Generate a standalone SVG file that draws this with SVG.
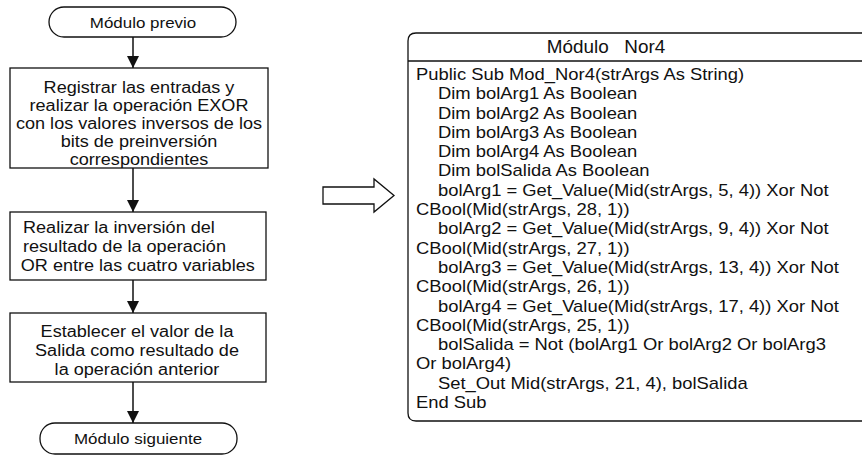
<svg xmlns="http://www.w3.org/2000/svg" width="862" height="455" viewBox="0 0 862 455">
  <defs>
    <style>
      .bg { fill: #ffffff; }
      .shape { fill: #ffffff; stroke: #111111; stroke-width: 1.3; }
      .edge { fill: none; stroke: #111111; stroke-width: 1.5; }
      .txt { font-family: "Liberation Sans", Arial, sans-serif; font-size: 16px; fill: #111111; }
      .term { font-family: "Liberation Sans", Arial, sans-serif; font-size: 15px; fill: #111111; text-anchor: middle; }
      .mid { text-anchor: middle; }
      .title { font-family: "Liberation Sans", Arial, sans-serif; font-size: 18px; fill: #111111; text-anchor: middle; }
      .code { font-family: "Liberation Sans", Arial, sans-serif; font-size: 16px; fill: #111111; }
    </style>
    <marker id="head" viewBox="0 0 12 12" refX="12" refY="6" markerWidth="12" markerHeight="12" markerUnits="userSpaceOnUse" orient="auto">
      <path d="M0,0 L12,6 L0,12 z" fill="#111111"/>
    </marker>
  </defs>
  <rect class="bg" x="0" y="0" width="862" height="455"/>

  <!-- flowchart connectors -->
  <g id="connectors">
    <line class="edge" x1="133" y1="37" x2="133" y2="68" marker-end="url(#head)"/>
    <line class="edge" x1="133" y1="168" x2="133" y2="212" marker-end="url(#head)"/>
    <line class="edge" x1="133" y1="280" x2="133" y2="313" marker-end="url(#head)"/>
    <line class="edge" x1="133" y1="382" x2="133" y2="423" marker-end="url(#head)"/>
  </g>

  <g id="start">
    <rect class="shape" x="49" y="7" width="187" height="30" rx="15" ry="15"/>
    <g transform="translate(143,0) scale(1.13,1)">
      <text class="term" x="0" y="28">Módulo previo</text>
    </g>
  </g>

  <g id="step1">
    <rect class="shape" x="10" y="68" width="258" height="100"/>
    <g transform="translate(139,0) scale(1.13,1)">
      <text class="txt mid" x="0" y="93">Registrar las entradas y</text>
      <text class="txt mid" x="0" y="111">realizar la operación EXOR</text>
      <text class="txt mid" x="0" y="129">con los valores inversos de los</text>
      <text class="txt mid" x="0" y="147">bits de preinversión</text>
      <text class="txt mid" x="0" y="165">correspondientes</text>
    </g>
  </g>

  <g id="step2">
    <rect class="shape" x="10" y="212" width="256" height="68"/>
    <g transform="translate(23,0) scale(1.13,1)">
      <text class="txt" x="0" y="233">Realizar la inversión del</text>
      <text class="txt" x="0" y="252">resultado de la operación</text>
      <text class="txt" x="-2" y="271">OR entre las cuatro variables</text>
    </g>
  </g>

  <g id="step3">
    <rect class="shape" x="10" y="313" width="256" height="69"/>
    <g transform="translate(137,0) scale(1.13,1)">
      <text class="txt mid" x="0" y="337">Establecer el valor de la</text>
      <text class="txt mid" x="0" y="356">Salida como resultado de</text>
      <text class="txt mid" x="0" y="375">la operación anterior</text>
    </g>
  </g>

  <g id="end">
    <rect class="shape" x="40" y="423" width="197" height="31" rx="15" ry="15"/>
    <g transform="translate(138,0) scale(1.13,1)">
      <text class="term" x="0" y="444">Módulo siguiente</text>
    </g>
  </g>

  <!-- hollow block arrow pointing to the code panel -->
  <g id="pointer">
    <path class="shape" d="M323,187 L374,187 L374,179 L394,195.5 L374,212 L374,204 L323,204 Z"/>
  </g>

  <g id="code">
    <path class="shape" d="M870,33 L416,33 Q408,33 408,41 L408,413 Q408,421 416,421 L870,421"/>
    <line class="shape" x1="408" y1="61" x2="870" y2="61"/>
    <g transform="translate(606,0) scale(1.05,1)">
      <text class="title" x="0" y="53" xml:space="preserve">Módulo   Nor4</text>
    </g>
    <g transform="translate(416,0) scale(1.15,1)">
      <text class="code" x="0" y="80">Public Sub Mod_Nor4(strArgs As String)</text>
      <text class="code" x="19.1" y="99.3">Dim bolArg1 As Boolean</text>
      <text class="code" x="19.1" y="118.6">Dim bolArg2 As Boolean</text>
      <text class="code" x="19.1" y="137.9">Dim bolArg3 As Boolean</text>
      <text class="code" x="19.1" y="157.2">Dim bolArg4 As Boolean</text>
      <text class="code" x="19.1" y="176.5">Dim bolSalida As Boolean</text>
      <text class="code" x="19.1" y="195.8">bolArg1 = Get_Value(Mid(strArgs, 5, 4)) Xor Not</text>
      <text class="code" x="0" y="215.1">CBool(Mid(strArgs, 28, 1))</text>
      <text class="code" x="19.1" y="234.4">bolArg2 = Get_Value(Mid(strArgs, 9, 4)) Xor Not</text>
      <text class="code" x="0" y="253.7">CBool(Mid(strArgs, 27, 1))</text>
      <text class="code" x="19.1" y="273">bolArg3 = Get_Value(Mid(strArgs, 13, 4)) Xor Not</text>
      <text class="code" x="0" y="292.3">CBool(Mid(strArgs, 26, 1))</text>
      <text class="code" x="19.1" y="311.6">bolArg4 = Get_Value(Mid(strArgs, 17, 4)) Xor Not</text>
      <text class="code" x="0" y="330.9">CBool(Mid(strArgs, 25, 1))</text>
      <text class="code" x="19.1" y="350.2">bolSalida = Not (bolArg1 Or bolArg2 Or bolArg3</text>
      <text class="code" x="0" y="369.5">Or bolArg4)</text>
      <text class="code" x="19.1" y="388.8">Set_Out Mid(strArgs, 21, 4), bolSalida</text>
      <text class="code" x="0" y="408.1">End Sub</text>
    </g>
  </g>
</svg>
